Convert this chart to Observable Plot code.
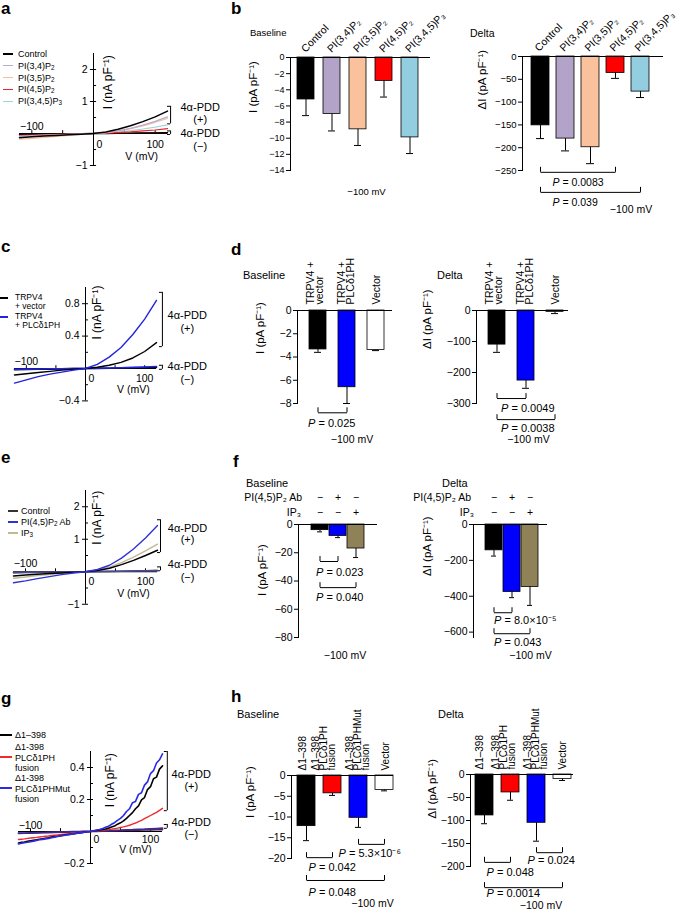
<!DOCTYPE html>
<html>
<head>
<meta charset="utf-8">
<script src="https://cdn.jsdelivr.net/npm/d3@7"></script>
<script src="https://cdn.jsdelivr.net/npm/@observablehq/plot@0.6"></script>
<style>
  html, body { margin: 0; padding: 0; background: #fff; }
  #fig { position: relative; width: 685px; height: 914px; overflow: hidden; font-family: "Liberation Sans", Arial, Helvetica, sans-serif; color: #000; }
  .t { position: absolute; white-space: nowrap; line-height: 1; transform: translateY(-50%); }
  .letter { position: absolute; font-weight: bold; font-size: 17px; line-height: 1; }
  .sw { position: absolute; height: 1.4px; }
  sub { font-size: 70%; vertical-align: -0.3em; line-height: 0; }
</style>
</head>
<body>
<div id="fig"></div>
<script>
// ================= DATA =================
// I–V traces (nA pF^-1) read at these voltages (mV)
const ivV = [-120, -100, -80, -60, -40, -20, 0, 20, 40, 60, 80, 100, 120];
const ivXTicks = [-100, -50, 50, 100];

// panel a
const aNames = ["Control", "PI(3,4)P<sub>2</sub>", "PI(3,5)P<sub>2</sub>", "PI(4,5)P<sub>2</sub>", "PI(3,4,5)P<sub>3</sub>"];
const aColors = ["#000000", "#b9aad3", "#f6c196", "#e3262c", "#a3d6dc"];
const aControlPos = [-0.13, -0.10, -0.08, -0.06, -0.04, -0.02, 0, 0.05, 0.13, 0.24, 0.37, 0.52, 0.70];
const aPI34Pos = [-0.08, -0.065, -0.05, -0.04, -0.025, -0.01, 0, 0.03, 0.08, 0.16, 0.26, 0.38, 0.52];
const aPI35Pos = [-0.18, -0.15, -0.12, -0.09, -0.06, -0.03, 0, 0.03, 0.08, 0.15, 0.24, 0.35, 0.47];
const aPI45Pos = [-0.06, -0.05, -0.04, -0.03, -0.02, -0.01, 0, 0.01, 0.03, 0.05, 0.08, 0.11, 0.15];
const aPI345Pos = [-0.09, -0.075, -0.06, -0.045, -0.03, -0.015, 0, 0.02, 0.05, 0.09, 0.14, 0.20, 0.27];
const aControlNeg = [-0.03, -0.025, -0.02, -0.015, -0.01, -0.005, 0, 0.003, 0.006, 0.009, 0.012, 0.016, 0.02];
const aPI45Neg = [-0.05, -0.04, -0.032, -0.024, -0.016, -0.008, 0, 0.004, 0.008, 0.012, 0.016, 0.02, 0.025];

// panel b
const bCats = ["Control", "PI(3,4)P₂", "PI(3,5)P₂", "PI(4,5)P₂", "PI(3,4,5)P₃"];
const bFills = ["#000000", "#b3a3c9", "#f9c29c", "#ff0000", "#93cde0"];
const bBaseMean = [-5.2, -7.0, -8.9, -2.9, -9.9];
const bBaseErr = [2.0, 2.1, 2.0, 2.0, 2.0];
const bDeltaMean = [-151, -180, -199, -36, -77];
const bDeltaErr = [29, 27, 36, 12, 13];
const bDeltaP = ["0.0083", "0.039"];

// panel c
const cNames = ["TRPV4<br>+ vector", "TRPV4<br>+ PLCδ1PH"];
const cColors = ["#000000", "#2323e0"];
const cVecPos = [-0.08, -0.065, -0.05, -0.035, -0.02, -0.01, 0, 0.015, 0.04, 0.075, 0.13, 0.21, 0.32];
const cPLCPos = [-0.18, -0.14, -0.10, -0.07, -0.045, -0.02, 0, 0.05, 0.14, 0.26, 0.42, 0.61, 0.84];
const cVecNeg = [-0.015, -0.012, -0.01, -0.008, -0.005, -0.002, 0, 0.002, 0.004, 0.006, 0.008, 0.011, 0.014];
const cPLCNeg = [-0.01, -0.008, -0.006, -0.004, -0.003, -0.001, 0, 0.003, 0.006, 0.01, 0.014, 0.018, 0.024];

// panel d
const dCats = ["TRPV4 +\nvector", "TRPV4 +\nPLCδ1PH", "Vector"];
const dFills = ["#000000", "#0000ff", "#ffffff"];
const dBaseMean = [-3.35, -6.6, -3.4];
const dBaseErr = [0.25, 1.4, 0.05];
const dDeltaMean = [-110, -226, -5];
const dDeltaErr = [25, 25, 5];
const dBaseP = ["0.025"];
const dDeltaP = ["0.0049", "0.0038"];

// panel e
const eNames = ["Control", "PI(4,5)P<sub>2</sub> Ab", "IP<sub>3</sub>"];
const eColors = ["#333333", "#3030d8", "#c2b994"];
const eCtrlPos = [-0.13, -0.10, -0.08, -0.055, -0.035, -0.015, 0, 0.04, 0.11, 0.22, 0.35, 0.50, 0.66];
const eAbPos = [-0.34, -0.28, -0.21, -0.15, -0.09, -0.04, 0, 0.07, 0.20, 0.42, 0.70, 1.04, 1.42];
const eIP3Pos = [-0.20, -0.16, -0.12, -0.085, -0.05, -0.02, 0, 0.05, 0.14, 0.28, 0.45, 0.64, 0.85];
const eCtrlNeg = [-0.03, -0.025, -0.02, -0.015, -0.01, -0.005, 0, 0.005, 0.01, 0.016, 0.022, 0.03, 0.038];
const eAbNeg = [-0.02, -0.016, -0.012, -0.009, -0.006, -0.003, 0, 0.006, 0.012, 0.018, 0.025, 0.032, 0.04];

// panel f
const fCats = ["Control", "PI(4,5)P₂ Ab", "IP₃"];
const fAbSigns = ["−", "+", "−"];
const fIP3Signs = ["−", "−", "+"];
const fFills = ["#000000", "#0000ff", "#8f8158"];
const fBaseMean = [-4.0, -8.1, -17.0];
const fBaseErr = [1.2, 1.2, 6.4];
const fDeltaMean = [-144, -376, -348];
const fDeltaErr = [32, 32, 103];
const fBaseP = ["0.023", "0.040"];
const fDeltaP = ["8.0×10⁻⁵", "0.043"];

// panel g (noisy traces, 5 mV resolution for 4α-PDD traces)
const gV = [-120, -110, -100, -90, -80, -70, -60, -50, -40, -30, -20, -10, 0, 10, 20, 30, 40, 50, 60, 70, 80, 90, 100, 110, 120];
const gV5 = [-120, -115, -110, -105, -100, -95, -90, -85, -80, -75, -70, -65, -60, -55, -50, -45, -40, -35, -30, -25, -20, -15, -10, -5, 0,
  5, 10, 15, 20, 25, 30, 35, 40, 45, 50, 55, 60, 65, 70, 75, 80, 85, 90, 95, 100, 105, 110, 115, 120];
const gNames = ["Δ1–398", "Δ1-398<br>PLCδ1PH<br>fusion", "Δ1-398<br>PLCδ1PHMut<br>fusion"];
const gColors = ["#000000", "#ee2a2a", "#2a2ae6"];
const gD398Pos = [-0.072, -0.068, -0.066, -0.061, -0.058, -0.055, -0.052, -0.048, -0.045, -0.042, -0.039, -0.035, -0.032, -0.03, -0.027, -0.023, -0.02, -0.018, -0.015, -0.012, -0.009, -0.007, -0.004, -0.002, 0,
  0.003, 0.006, 0.009, 0.013, 0.016, 0.021, 0.028, 0.034, 0.046, 0.054, 0.066, 0.082, 0.1, 0.118, 0.142, 0.16, 0.198, 0.212, 0.262, 0.28, 0.33, 0.34, 0.39, 0.41];
const gPHPos = [-0.05, -0.048, -0.046, -0.043, -0.041, -0.039, -0.037, -0.034, -0.032, -0.03, -0.028, -0.025, -0.023, -0.021, -0.019, -0.017, -0.015, -0.013, -0.011, -0.009, -0.007, -0.005, -0.003, -0.001, 0,
  0.002, 0.004, 0.006, 0.008, 0.01, 0.012, 0.015, 0.018, 0.021, 0.025, 0.029, 0.034, 0.039, 0.046, 0.053, 0.062, 0.07, 0.08, 0.09, 0.1, 0.11, 0.12, 0.132, 0.145];
const gMutPos = [-0.078, -0.074, -0.07, -0.067, -0.064, -0.06, -0.056, -0.052, -0.049, -0.046, -0.043, -0.039, -0.035, -0.031, -0.028, -0.025, -0.022, -0.018, -0.015, -0.013, -0.01, -0.007, -0.004, -0.002, 0,
  0.004, 0.009, 0.013, 0.018, 0.026, 0.033, 0.045, 0.055, 0.07, 0.082, 0.1, 0.125, 0.142, 0.18, 0.188, 0.232, 0.242, 0.29, 0.31, 0.362, 0.38, 0.428, 0.448, 0.485];
const gD398Neg = [-0.012, -0.011, -0.01, -0.009, -0.008, -0.007, -0.006, -0.005, -0.004, -0.003, -0.002, -0.001, 0, 0.001, 0.002, 0.003, 0.004, 0.005, 0.006, 0.007, 0.008, 0.009, 0.01, 0.011, 0.012];
const gMutNeg = [-0.01, -0.009, -0.008, -0.007, -0.006, -0.005, -0.004, -0.003, -0.002, -0.001, 0, 0.001, 0.002, 0.003, 0.005, 0.006, 0.008, 0.009, 0.011, 0.012, 0.014, 0.015, 0.017, 0.019, 0.021];

// panel h
const hCats = ["Δ1–398", "Δ1–398\nPLCδ1PH\nfusion", "Δ1–398\nPLCδ1PHMut\nfusion", "Vector"];
const hFills = ["#000000", "#ff0000", "#0000ff", "#ffffff"];
const hBaseMean = [-12.2, -4.3, -10.2, -3.5];
const hBaseErr = [3.5, 0.5, 2.3, 0.2];
const hDeltaMean = [-89, -39, -105, -10];
const hDeltaErr = [18, 17, 40, 3];
const hBaseP = ["0.042", "0.048", "5.3×10⁻⁶"];
const hDeltaP = ["0.048", "0.0014", "0.024"];

// ================= HELPERS =================
const fig = document.getElementById("fig");
const FONT = '"Liberation Sans", Arial, Helvetica, sans-serif';
const fmt = d3.format("");

function mount(svg, left, top) {
  svg.style.position = "absolute";
  svg.style.left = left + "px";
  svg.style.top = top + "px";
  svg.style.maxWidth = "none";
  fig.appendChild(svg);
}
function label(x, y, html, size, extra) {
  const d = document.createElement("div");
  d.className = "t";
  d.style.left = x + "px";
  d.style.top = y + "px";
  d.style.fontSize = size + "px";
  if (extra) Object.assign(d.style, extra);
  d.innerHTML = html;
  fig.appendChild(d);
}
function letter(x, y, ch) {
  const d = document.createElement("div");
  d.className = "letter";
  d.style.left = x + "px";
  d.style.top = y + "px";
  d.textContent = ch;
  fig.appendChild(d);
}
function swatch(x1, x2, y, color) {
  const d = document.createElement("div");
  d.className = "sw";
  d.style.left = x1 + "px";
  d.style.width = (x2 - x1) + "px";
  d.style.top = (y - 0.7) + "px";
  d.style.background = color;
  fig.appendChild(d);
}
function baseStyle(fs) {
  return {fontFamily: FONT, fontSize: fs + "px", background: "transparent", overflow: "visible", color: "#000"};
}

function ivPanel(c) {
  const marks = [
    Plot.ruleY([0], {strokeWidth: 1}),
    Plot.ruleX(ivXTicks, {x: d => d, y1: () => 0, y2: () => c.xTickLen, strokeWidth: 1}),
    Plot.ruleX([0], {x: d => d, y1: () => c.yDomain[0], y2: () => c.yDomain[1], strokeWidth: 1}),
    Plot.ruleY(c.yTicks, {y: d => d, x1: () => -c.yTickHalf, x2: () => c.yTickHalf}),
    Plot.ruleY(c.yMinor, {y: d => d, x1: () => 0, x2: () => c.yTickHalf}),
    Plot.text(c.yTicks, {x: () => 0, y: d => d, text: d => fmt(d), textAnchor: "end", dx: -6}),
    Plot.text([-100], {x: d => d, y: () => 0, text: d => fmt(d), dy: c.m100Dy}),
    Plot.text([0], {x: d => d, y: () => 0, text: d => fmt(d), textAnchor: "start", dx: 3, dy: c.zeroDy}),
    Plot.text([100], {x: d => d, y: () => 0, text: d => fmt(d), dy: c.zeroDy}),
    Plot.text(["V (mV)"], {x: () => c.vLabelX, y: () => 0, text: d => d, dy: c.vLabelDy}),
    Plot.text(["I (nA pF⁻¹)"], {x: () => 0, y: () => c.yLabelY, text: d => d, rotate: -90, dx: c.yLabelDx, fontSize: 12}),
    Plot.ruleX([c.bx], {x: d => d, y1: () => c.bPos[0], y2: () => c.bPos[1]}),
    Plot.ruleY(c.bPos, {y: d => d, x1: () => c.bx - c.arm, x2: () => c.bx}),
    Plot.ruleX([c.bx], {x: d => d, y1: () => c.bNeg[0], y2: () => c.bNeg[1]}),
    Plot.ruleY(c.bNeg, {y: d => d, x1: () => c.bx - c.arm, x2: () => c.bx}),
    Plot.text(["4α-PDD", "(+)", "4α-PDD", "(−)"], {x: () => c.pddX, y: (d, i) => c.pddY[i], text: d => d, fontSize: 11})
  ];
  for (const t of c.traces) {
    const V = t.V || c.V;
    marks.push(Plot.line(V.map((v, i) => ({v, cur: t.values[i]})), {x: "v", y: "cur", stroke: t.color, strokeWidth: t.width || 1.2}));
  }
  const svg = Plot.plot({
    width: c.w, height: c.h,
    marginLeft: c.ml, marginRight: c.mr, marginTop: c.mt, marginBottom: c.mb,
    style: baseStyle(10.5),
    x: {domain: [-120, 120], axis: null},
    y: {domain: c.yDomain, axis: null},
    marks
  });
  mount(svg, c.left, c.top);
}

function pMarks(br, fs) {
  return [
    Plot.text([br], {x: "tx", y: "y", text: () => "P", fontStyle: "italic", textAnchor: "start", dx: br.dx, dy: br.dy, fontSize: fs}),
    Plot.text([br], {x: "tx", y: "y", text: d => "= " + d.p, textAnchor: "start", dx: br.dx + fs * 0.95, dy: br.dy, fontSize: fs})
  ];
}

function barPanel(c) {
  const data = c.cats.map((cat, i) => ({cat, mean: c.mean[i], err: c.err[i], fill: c.fills[i]}));
  const brs = (c.brackets || []).map(b => ({a: c.cats[b.a], b: c.cats[b.b], tx: c.cats[b.tx || 0], y: b.y, p: b.p, dx: b.dx, dy: b.dy}));
  const ends = brs.flatMap(b => [{cat: b.a, y: b.y}, {cat: b.b, y: b.y}]);
  const marks = [
    Plot.barY(data, {x: "cat", y: "mean", fill: "fill", stroke: "#000", strokeWidth: 0.8}),
    Plot.ruleX(data, {x: "cat", y1: d => d.mean, y2: d => d.mean - d.err, strokeWidth: 1}),
    Plot.tickY(data, {x: "cat", y: d => d.mean - d.err, insetLeft: c.capInset, insetRight: c.capInset, strokeWidth: 1}),
    Plot.ruleY([0], {strokeWidth: 1}),
    Plot.frame({anchor: "left"}),
    Plot.axisY({ticks: c.ticks, tickFormat: fmt, tickSize: 4, tickPadding: 2, label: null, fontSize: c.fs}),
    Plot.text([c.ylabel], {frameAnchor: "left", text: d => d, rotate: -90, dx: -c.ylabelOffset, dy: c.ylabelDy, fontSize: 11.5}),
    Plot.text(["−100 mV"], {frameAnchor: "bottom", text: d => d, dx: c.mvDx, dy: c.mvDy, fontSize: c.fsMv})
  ];
  if (c.showCats) {
    data.forEach((d, i) => {
      marks.push(Plot.text([d], {x: "cat", y: () => 0, text: "cat", rotate: c.labelRotate, textAnchor: "start",
        lineAnchor: "middle", lineHeight: c.labelLH, dx: c.labelDx + (c.labelShift ? c.labelShift[i] : 0), dy: c.labelDy, fontSize: c.fsCat}));
    });
  }
  if (brs.length) {
    marks.push(Plot.link(brs, {x1: "a", x2: "b", y1: "y", y2: "y", strokeWidth: 1}));
    marks.push(Plot.ruleX(ends, {x: "cat", y1: "y", y2: d => d.y + c.bh, strokeWidth: 1}));
    for (const b of brs) marks.push(...pMarks(b, c.fsP));
  }
  if (c.extra) marks.push(...c.extra);
  const svg = Plot.plot({
    width: c.w, height: c.h,
    marginLeft: c.ml, marginRight: c.mr, marginTop: c.mt, marginBottom: c.mb,
    style: baseStyle(c.fs),
    x: {type: "band", domain: c.cats, paddingInner: c.pi, paddingOuter: c.po, align: c.align, axis: null},
    y: {domain: c.yDomain},
    marks
  });
  mount(svg, c.left, c.top);
}

// ================= PANELS =================
// ---- a ----
ivPanel({
  left: 0, top: 40, w: 230, h: 150, ml: 19, mr: 63, mt: 13, mb: 25,
  V: ivV, yDomain: [-1, 2.5], yTicks: [2, 1, -1], yMinor: [1.5, 0.5, -0.5],
  xTickLen: 0.09, yTickHalf: 5, m100Dy: -7, zeroDy: 11, vLabelX: 78, vLabelDy: 23,
  yLabelY: 1.6, yLabelDx: 15, bx: 125, arm: 5, bPos: [0.85, 0.3], bNeg: [0.08, -0.03],
  pddX: 173, pddY: [0.81, 0.45, 0.0, -0.41],
  traces: [
    {values: aPI45Neg, color: "#8a2020", width: 1.2},
    {values: aControlNeg, color: "#000000", width: 1.5},
    {values: aPI345Pos, color: aColors[4]},
    {values: aPI45Pos, color: aColors[3]},
    {values: aPI35Pos, color: aColors[2]},
    {values: aPI34Pos, color: aColors[1]},
    {values: aControlPos, color: aColors[0], width: 1.5}
  ]
});

// ---- b ----
barPanel({
  left: 230, top: 0, w: 230, h: 215, ml: 60, mr: 30, mt: 57, mb: 45,
  pi: 0.33, po: 0.357, align: 0.35,
  cats: bCats, mean: bBaseMean, err: bBaseErr, fills: bFills,
  yDomain: [-14, 0], ticks: [0, -2, -4, -6, -8, -10, -12, -14],
  ylabel: "I (pA pF⁻¹)", ylabelOffset: 37, ylabelDy: -1,
  fs: 9, fsCat: 10.5, fsP: 10.5, fsMv: 9.5,
  showCats: true, labelRotate: -45, labelDx: -3, labelDy: -7, labelLH: 1, capInset: 5,
  mvDx: 6, mvDy: 24
});
barPanel({
  left: 460, top: 0, w: 225, h: 225, ml: 62, mr: 22, mt: 56, mb: 55,
  pi: 0.3, po: 0.388, align: 0.4,
  cats: bCats, mean: bDeltaMean, err: bDeltaErr, fills: bFills,
  yDomain: [-250, 0], ticks: [0, -50, -100, -150, -200, -250],
  ylabel: "ΔI (pA pF⁻¹)", ylabelOffset: 40, ylabelDy: -4,
  fs: 9.5, fsCat: 10.5, fsP: 10.5, fsMv: 10.5,
  showCats: true, labelRotate: -45, labelDx: -4, labelDy: -7, labelLH: 1, capInset: 5,
  mvDx: 38, mvDy: 42, bh: 11,
  brackets: [
    {a: 0, b: 3, y: -254, p: bDeltaP[0], dx: 12, dy: 10},
    {a: 0, b: 4, y: -298, p: bDeltaP[1], dx: 12, dy: 10}
  ]
});

// ---- c ----
ivPanel({
  left: 0, top: 280, w: 230, h: 140, ml: 14, mr: 74, mt: 7, mb: 19.6,
  V: ivV, yDomain: [-0.4, 1.0], yTicks: [0.8, 0.4, -0.4], yMinor: [0.6, 0.2, -0.2],
  xTickLen: 0.035, yTickHalf: 5, m100Dy: -7, zeroDy: 10, vLabelX: 81, vLabelDy: 21,
  yLabelY: 0.69, yLabelDx: 12, bx: 130, arm: 5, bPos: [0.94, 0.27], bNeg: [0.04, -0.01],
  pddX: 172, pddY: [0.66, 0.5, 0.02, -0.13],
  traces: [
    {values: cVecNeg, color: "#000000", width: 1.6},
    {values: cPLCNeg, color: cColors[1], width: 1.6},
    {values: cVecPos, color: cColors[0], width: 1.4},
    {values: cPLCPos, color: cColors[1], width: 1.4}
  ]
});

// ---- d ----
barPanel({
  left: 230, top: 262, w: 230, h: 185, ml: 67, mr: 68, mt: 48, mb: 44,
  pi: 0.43, po: 0.3, align: 0.61,
  cats: dCats, mean: dBaseMean, err: dBaseErr, fills: dFills,
  yDomain: [-8, 0], ticks: [0, -2, -4, -6, -8],
  ylabel: "I (pA pF⁻¹)", ylabelOffset: 37, ylabelDy: -3,
  fs: 10.5, fsCat: 10.5, fsP: 11, fsMv: 10.5,
  showCats: true, labelRotate: -90, labelDx: 0, labelShift: [-2, 0, 1.5], labelDy: -6, labelLH: 0.82, capInset: 5,
  mvDx: 7, mvDy: 39, bh: 0.43,
  brackets: [{a: 0, b: 1, y: -8.8, p: dBaseP[0], dx: -10, dy: 11}]
});
barPanel({
  left: 420, top: 262, w: 265, h: 185, ml: 56, mr: 117, mt: 48, mb: 44,
  pi: 0.43, po: 0.25, align: 0.67,
  cats: dCats, mean: dDeltaMean, err: dDeltaErr, fills: dFills,
  yDomain: [-300, 0], ticks: [0, -100, -200, -300],
  ylabel: "ΔI (pA pF⁻¹)", ylabelOffset: 49, ylabelDy: -8,
  fs: 10.5, fsCat: 10.5, fsP: 11, fsMv: 10.5,
  showCats: true, labelRotate: -90, labelDx: 0, labelShift: [-2, 0, 1.5], labelDy: -6, labelLH: 0.82, capInset: 5,
  mvDx: 6, mvDy: 39, bh: 16,
  brackets: [
    {a: 0, b: 1, y: -284, p: dDeltaP[0], dx: 4, dy: 10},
    {a: 0, b: 2, y: -352, p: dDeltaP[1], dx: 4, dy: 9}
  ]
});

// ---- e ----
ivPanel({
  left: 0, top: 480, w: 230, h: 140, ml: 13, mr: 73, mt: 10, mb: 16.25,
  V: ivV, yDomain: [-1, 2.5], yTicks: [2, 1, -1], yMinor: [1.5, 0.5, -0.5],
  xTickLen: 0.09, yTickHalf: 5, m100Dy: -8, zeroDy: 10, vLabelX: 80, vLabelDy: 22,
  yLabelY: 1.66, yLabelDx: 12, bx: 125, arm: 5, bPos: [1.6, 0.59], bNeg: [0.15, 0.03],
  pddX: 170, pddY: [1.34, 0.98, 0.22, -0.18],
  traces: [
    {values: eCtrlNeg, color: "#222222", width: 1.5},
    {values: eAbNeg, color: "#4a4a9a", width: 1.5},
    {values: eIP3Pos, color: eColors[2], width: 1.4},
    {values: eCtrlPos, color: "#000000", width: 1.5},
    {values: eAbPos, color: eColors[1], width: 1.4}
  ]
});

// ---- f ----
const fSignRows = (fs, dxAb, dxIP) => [
  Plot.text(fCats.map((cat, i) => ({cat, s: fAbSigns[i]})), {x: "cat", y: () => 0, text: "s", dy: -27, fontSize: fs}),
  Plot.text(fCats.map((cat, i) => ({cat, s: fIP3Signs[i]})), {x: "cat", y: () => 0, text: "s", dy: -12, fontSize: fs}),
  Plot.text([fCats[1]], {x: () => fCats[0], y: () => 0, text: d => d, textAnchor: "end", dx: dxAb, dy: -27, fontSize: fs}),
  Plot.text([fCats[2]], {x: () => fCats[0], y: () => 0, text: d => d, textAnchor: "end", dx: dxIP, dy: -12, fontSize: fs})
];
barPanel({
  left: 230, top: 470, w: 230, h: 195, ml: 68, mr: 83, mt: 54, mb: 28,
  pi: 0.03, po: 0.6, align: 0.49,
  cats: fCats, mean: fBaseMean, err: fBaseErr, fills: fFills,
  yDomain: [-80, 0], ticks: [0, -20, -40, -60, -80],
  ylabel: "I (pA pF⁻¹)", ylabelOffset: 36, ylabelDy: 15,
  fs: 10.5, fsP: 11, fsMv: 10.5, showCats: false, capInset: 6,
  mvDx: 7, mvDy: 21, bh: 3.5,
  brackets: [
    {a: 0, b: 1, y: -26.2, p: fBaseP[0], dx: -4, dy: 11},
    {a: 0, b: 2, y: -44.7, p: fBaseP[1], dx: -4, dy: 10}
  ],
  extra: fSignRows(10.5, -18, -19)
});
barPanel({
  left: 420, top: 470, w: 265, h: 195, ml: 53, mr: 138, mt: 54, mb: 28,
  pi: 0.03, po: 0.51, align: 0.58,
  cats: fCats, mean: fDeltaMean, err: fDeltaErr, fills: fFills,
  yDomain: [-630, 0], ticks: [0, -200, -400, -600],
  ylabel: "ΔI (pA pF⁻¹)", ylabelOffset: 46, ylabelDy: -5,
  fs: 10.5, fsP: 11, fsMv: 10.5, showCats: false, capInset: 6,
  mvDx: 20, mvDy: 21, bh: 28,
  brackets: [
    {a: 0, b: 1, y: -492, p: fDeltaP[0], dx: 0, dy: 8},
    {a: 0, b: 2, y: -609, p: fDeltaP[1], dx: 0, dy: 9}
  ],
  extra: fSignRows(10.5, -23, -20)
});

// ---- g ----
ivPanel({
  left: 0, top: 730, w: 230, h: 145, ml: 18, mr: 68, mt: 21, mb: 12,
  V: gV, yDomain: [-0.2, 0.5], yTicks: [0.4, 0.2, -0.2], yMinor: [0.3, 0.1, -0.1],
  xTickLen: 0.018, yTickHalf: 5, m100Dy: -6, zeroDy: 8, vLabelX: 75, vLabelDy: 18,
  yLabelY: 0.32, yLabelDx: 20, bx: 128, arm: 5, bPos: [0.5, 0.13], bNeg: [0.044, 0.02],
  pddX: 168, pddY: [0.355, 0.28, 0.058, -0.016],
  traces: [
    {values: gD398Neg, color: "#552255", width: 1.6},
    {values: gMutNeg, color: "#3a2a9a", width: 1.6},
    {V: gV5, values: gPHPos, color: gColors[1], width: 1.4},
    {V: gV5, values: gD398Pos, color: gColors[0], width: 1.6},
    {V: gV5, values: gMutPos, color: gColors[2], width: 1.6}
  ]
});

// ---- h ----
barPanel({
  left: 230, top: 690, w: 230, h: 224, ml: 61, mr: 67, mt: 85, mb: 56,
  pi: 0.29, po: 0.05, align: 1,
  cats: hCats, mean: hBaseMean, err: hBaseErr, fills: hFills,
  yDomain: [-20, 0], ticks: [0, -5, -10, -15, -20],
  ylabel: "I (pA pF⁻¹)", ylabelOffset: 41, ylabelDy: 1,
  fs: 10.5, fsCat: 10, fsP: 11, fsMv: 10.5,
  showCats: true, labelRotate: -90, labelDx: 0, labelShift: [-3.5, -8, 0, 1.5], labelDy: -5, labelLH: 0.8, capInset: 6,
  mvDx: 30, mvDy: 48, bh: 1.2,
  brackets: [
    {a: 0, b: 1, y: -19.8, p: hBaseP[0], dx: 2, dy: 10},
    {a: 0, b: 3, y: -25.3, p: hBaseP[1], dx: 2, dy: 12},
    {a: 2, b: 3, tx: 2, y: -16.6, p: hBaseP[2], dx: -20, dy: 9}
  ]
});
barPanel({
  left: 420, top: 690, w: 265, h: 224, ml: 50, mr: 112, mt: 84, mb: 48,
  pi: 0.32, po: 0.118, align: 0.65,
  cats: hCats, mean: hDeltaMean, err: hDeltaErr, fills: hFills,
  yDomain: [-200, 0], ticks: [0, -50, -100, -150, -200],
  ylabel: "ΔI (pA pF⁻¹)", ylabelOffset: 38, ylabelDy: -2,
  fs: 10.5, fsCat: 10, fsP: 11, fsMv: 10.5,
  showCats: true, labelRotate: -90, labelDx: 0, labelShift: [-4, -6, 0, 1], labelDy: -5, labelLH: 0.8, capInset: 6,
  mvDx: 19, mvDy: 42.5, bh: 11,
  brackets: [
    {a: 0, b: 1, y: -191, p: hDeltaP[0], dx: 2, dy: 10},
    {a: 0, b: 3, y: -246, p: hDeltaP[1], dx: 2, dy: 6},
    {a: 2, b: 3, tx: 2, y: -170, p: hDeltaP[2], dx: -9, dy: 8}
  ]
});

// ================= HTML TEXT: letters, headers, legends =================
letter(1, 0, "a"); letter(231, 0, "b");
letter(1, 238, "c"); letter(231, 241, "d");
letter(1, 449, "e"); letter(233, 453, "f");
letter(1, 690, "g"); letter(231, 688, "h");

label(250, 33, "Baseline", 9.5); label(470, 33, "Delta", 10.5);
label(243, 275, "Baseline", 11); label(437, 275, "Delta", 11);
label(246, 483, "Baseline", 11); label(442, 483, "Delta", 11);
label(237, 714, "Baseline", 11); label(438, 714, "Delta", 11);

// legend a
aNames.forEach((n, i) => {
  const y = 54 + 11.8 * i;
  swatch(3, 13, y, aColors[i]);
  label(18, y, n, 9);
});
// legend c
cNames.forEach((n, i) => {
  const y = 298 + 19 * i;
  swatch(0, 8, y, cColors[i]);
  label(15, y + 4, n, 8.5, {lineHeight: "8.6px"});
});
// legend e
eNames.forEach((n, i) => {
  const y = 511 + 11 * i;
  swatch(8, 18, y, eColors[i]);
  label(21, y, n, 9);
});
// legend g
swatch(0, 12, 735, gColors[0]); label(15, 735, gNames[0], 9);
swatch(0, 12, 757, gColors[1]); label(15, 758, gNames[1], 9, {lineHeight: "10.5px"});
swatch(0, 12, 788, gColors[2]); label(15, 789, gNames[2], 9, {lineHeight: "10.5px"});
</script>
</body>
</html>
